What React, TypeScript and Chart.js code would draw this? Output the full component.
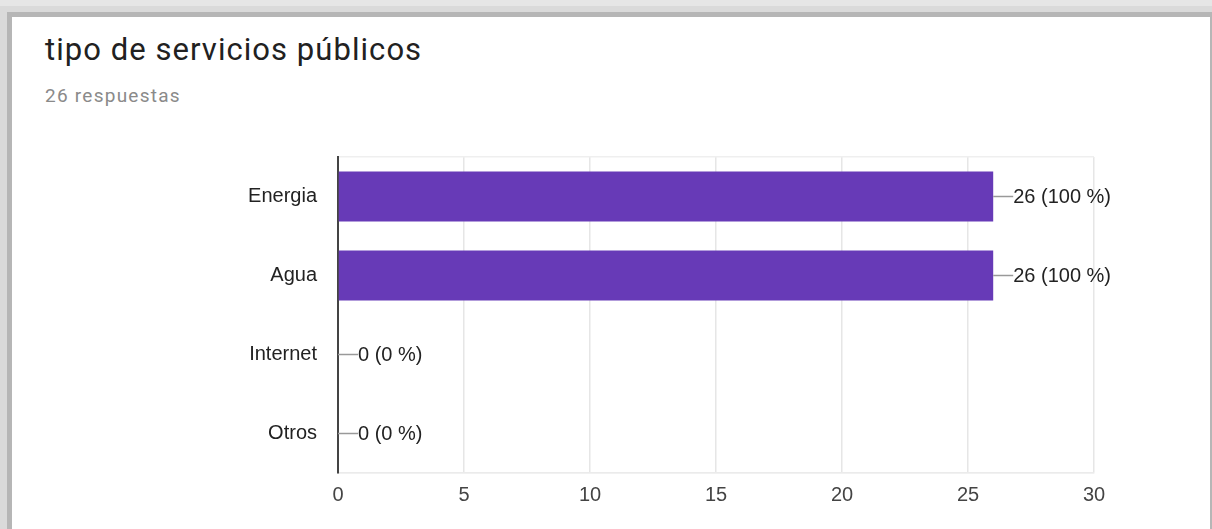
import React, { useEffect, useRef } from "react";
import { Chart, registerables } from "chart.js";

Chart.register(...registerables);

const titleText = "tipo de servicios públicos";
const subtitleText = "26 respuestas";
const totalResponses = 26;
const categories = ["Energia", "Agua", "Internet", "Otros"];
const counts = [26, 26, 0, 0];
const xMin = 0;
const xMax = 30;
const xStep = 5;

const FONT = "'Liberation Sans', Arial, sans-serif";

const valueLabelPlugin = {
  id: "valueLabels",
  afterDatasetsDraw(chart: any) {
    const ctx = chart.ctx;
    const meta = chart.getDatasetMeta(0);
    ctx.save();
    meta.data.forEach((bar: any, i: number) => {
      const { x, y } = bar.getProps(["x", "y"], true);
      const v = counts[i];
      const pct = Math.round((v / totalResponses) * 100);
      ctx.strokeStyle = "#999999";
      ctx.lineWidth = 1.5;
      ctx.beginPath();
      ctx.moveTo(x, y);
      ctx.lineTo(x + 20, y);
      ctx.stroke();
      ctx.fillStyle = "#222222";
      ctx.font = `20px ${FONT}`;
      ctx.textAlign = "left";
      ctx.textBaseline = "middle";
      ctx.fillText(`${v} (${pct} %)`, x + 20, y + 1);
    });
    ctx.restore();
  },
};

export default function App() {
  const canvasRef = useRef<HTMLCanvasElement | null>(null);

  useEffect(() => {
    if (!canvasRef.current) return;
    const chart = new Chart(canvasRef.current, {
      type: "bar",
      data: {
        labels: categories,
        datasets: [
          {
            data: counts,
            backgroundColor: "#673ab7",
            borderWidth: 0,
            barPercentage: 0.633,
            categoryPercentage: 1,
          },
        ],
      },
      options: {
        indexAxis: "y",
        responsive: false,
        animation: false,
        layout: { padding: { left: 0, right: 118, top: 157, bottom: 0 } },
        plugins: {
          legend: { display: false },
          tooltip: { enabled: false },
        },
        scales: {
          x: {
            min: xMin,
            max: xMax,
            afterFit: (scale: any) => {
              scale.height = 56;
            },
            ticks: {
              stepSize: xStep,
              padding: 10,
              color: "#444444",
              font: { family: FONT, size: 20 },
            },
            grid: {
              drawTicks: false,
              color: (c: any) =>
                c.tick && c.tick.value === 0 ? "rgba(0,0,0,0)" : "#e6e6e6",
              lineWidth: 1.5,
            },
            border: { display: true, color: "#ebebeb", width: 1.5 },
          },
          y: {
            afterFit: (scale: any) => {
              scale.width = 338;
            },
            ticks: {
              padding: 21,
              color: "#222222",
              font: { family: FONT, size: 20 },
            },
            grid: {
              drawTicks: false,
              offset: true,
              color: (c: any) =>
                c.type !== "tick" || c.index === 0 ? "#efefef" : "rgba(0,0,0,0)",
              lineWidth: 1.5,
            },
            border: { display: true, color: "#444444", width: 2 },
          },
        },
      },
      plugins: [valueLabelPlugin],
    } as any);
    return () => chart.destroy();
  }, []);

  return (
    <div
      style={{
        position: "fixed",
        left: 0,
        top: 0,
        width: 1212,
        height: 529,
        overflow: "hidden",
        background: "#e6e6e6",
      }}
    >
      <div
        style={{
          position: "absolute",
          left: 0,
          top: 6,
          width: 1212,
          height: 523,
          background: "#dadada",
        }}
      />
      <div
        style={{
          position: "absolute",
          left: 7,
          top: 12,
          width: 1205,
          height: 517,
          background: "#b6b6b6",
        }}
      />
      <div
        style={{
          position: "absolute",
          left: 12,
          top: 17,
          width: 1198,
          height: 512,
          background: "#ffffff",
        }}
      />
      <div
        style={{
          position: "absolute",
          left: 45,
          top: 34,
          fontFamily: "Roboto, sans-serif",
          fontSize: 31,
          lineHeight: "31px",
          letterSpacing: "1.05px",
          color: "#212121",
          whiteSpace: "nowrap",
        }}
      >
        {titleText}
      </div>
      <div
        style={{
          position: "absolute",
          left: 45,
          top: 86,
          fontFamily: "Roboto, sans-serif",
          fontSize: 19,
          lineHeight: "19px",
          letterSpacing: "1.25px",
          color: "#8a8a8a",
          whiteSpace: "nowrap",
        }}
      >
        {subtitleText}
      </div>
      <canvas
        ref={canvasRef}
        width={1212}
        height={529}
        style={{ position: "absolute", left: 0, top: 0, width: 1212, height: 529 }}
      />
    </div>
  );
}
